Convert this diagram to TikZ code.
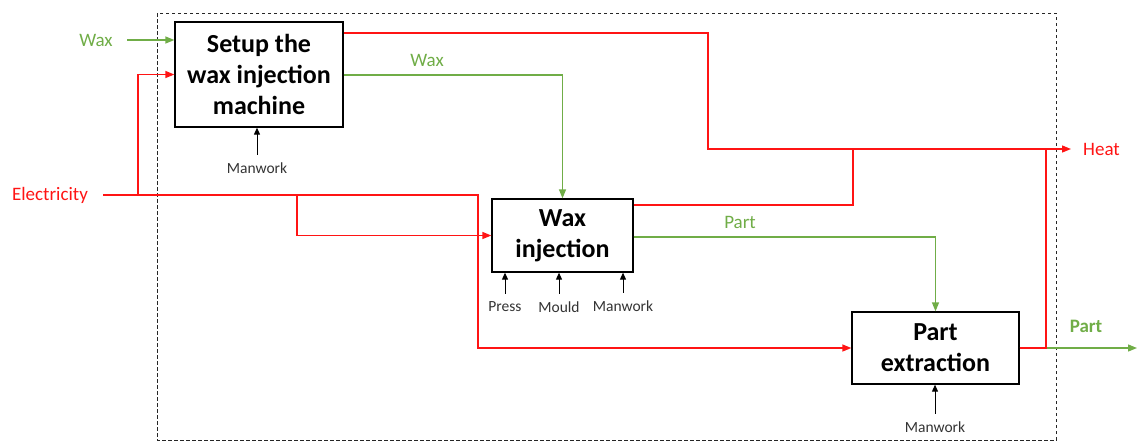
\documentclass[tikz,border=0pt]{standalone}
\usepackage{fontspec}
\setmainfont{Carlito}
\usetikzlibrary{arrows.meta}
\definecolor{fred}{RGB}{255,20,20}
\definecolor{fgreen}{RGB}{112,173,71}
\tikzset{
  procbox/.style={draw=black, line width=1.3pt, fill=white, align=center, inner sep=0pt,
    font=\bfseries\fontsize{26}{31}\selectfont},
  redline/.style={draw=fred, line width=1.3pt},
  greenline/.style={draw=fgreen, line width=1.3pt},
  tip/.style={-{Triangle[length=9pt,width=7pt]}},
  mechline/.style={draw=black, line width=1pt, -{Triangle[length=7pt,width=6pt]}},
  lbl/.style={font=\fontsize{19}{22}\selectfont, inner sep=0pt},
  mlbl/.style={font=\fontsize{15.5}{18}\selectfont, inner sep=0pt, outer sep=8pt, text=black!80},
  frame/.style={draw=black!85, line width=0.9pt, dash pattern=on 3.5pt off 2.5pt}
}
\begin{document}
\begin{tikzpicture}[x=1pt,y=-1pt]
\useasboundingbox (0,0) rectangle (1137,440);
\draw[frame] (157,13) rectangle (1056,440);

% boxes
\node[procbox, minimum width=168pt, minimum height=105pt] (b1) at (259,74.5) {Setup the\\wax injection\\machine};
\node[procbox, minimum width=141pt, minimum height=73pt] (b2) at (562.5,235.5) {Wax\\injection};
\node[procbox, minimum width=167pt, minimum height=72pt] (b3) at (935.5,348) {Part\\extraction};

% labels
\node[lbl, text=fgreen] (wax) at (96,40) {Wax};
\node[lbl, text=fred] (elec) at (50,195) {Electricity};
\node[lbl, text=fred, anchor=west] (heat) at (1083,149) {Heat};
\node[lbl, text=fgreen] (waxmid) at (427,60) {Wax};
\node[lbl, text=fgreen] (partmid) at (740,222) {Part};
\node[lbl, text=fgreen, font=\bfseries\fontsize{19}{22}\selectfont] (partout) at (1086,326) {Part};

\coordinate (waxin) at (127,40);
\coordinate (elin) at (103,195);
\coordinate (heatend) at (1071,149);
\coordinate (partend) at (1137,348);

% inputs
\draw[greenline, tip] (waxin) -- (waxin -| b1.west);
\draw[redline, tip] (elin) -- (138,195) |- (b1.west);
\draw[redline, tip] (elin) -- (478,195) |- (b3.west);
\draw[redline, tip] (297,195) |- (b2.west);

% outputs of box 1
\draw[redline, tip] (b1.east |- 0,33) -| (708,149) -- (heatend);
\draw[greenline, tip] (b1.east |- 0,75) -| (b2.north);

% outputs of box 2
\draw[redline] (b2.east |- 0,205) -| (853,149);
\draw[greenline, tip] (b2.east |- 0,237) -| (b3.north);

% outputs of box 3
\draw[greenline, tip] (b3.east) -- (partend);
\draw[redline] (b3.east) -| (1046,149);

% mechanisms
\node[mlbl] (man1) at (257,168) {Manwork};
\draw[mechline] (man1.north) -- (man1.north |- b1.south);
\node[mlbl] (press) at (505,307) {Press};
\node[mlbl] (mould) at (559,307) {Mould};
\node[mlbl] (man2) at (623,306) {Manwork};
\draw[mechline] (press.north) -- (press.north |- b2.south);
\draw[mechline] (mould.north) -- (mould.north |- b2.south);
\draw[mechline] (man2.north) -- (man2.north |- b2.south);
\node[mlbl] (man3) at (935,427) {Manwork};
\draw[mechline] (man3.north) -- (man3.north |- b3.south);
\end{tikzpicture}
\end{document}
